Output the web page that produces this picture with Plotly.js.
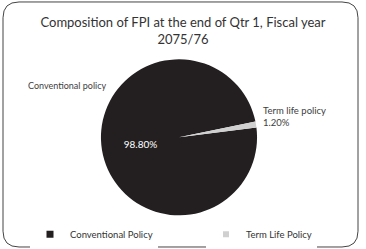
<!DOCTYPE html>
<html><head><meta charset="utf-8">
<script src="https://cdn.plot.ly/plotly-3.0.1.min.js"></script>
<style>html,body{margin:0;padding:0;background:#fff}#chart{width:366px;height:249px}</style>
</head><body><div id="chart"></div>
<script>
var categories = ['Conventional Policy', 'Term Life Policy'];
var dataLabels = ['Conventional policy', 'Term life policy'];
var shares = [98.80, 1.20];
var colors = ['#231F20', '#D0D0D0'];
var titleText = 'Composition of FPI at the end of Qtr 1, Fiscal year<br>2075/76';

var W = 366, H = 249;
function px(x){return x/W;} function py(y){return 1 - y/H;}

var pie = {
  type: 'pie',
  labels: categories,
  values: shares,
  text: dataLabels,
  sort: false,
  direction: 'clockwise',
  rotation: 82.7,
  marker: {colors: colors, line: {width: 0}},
  textposition: ['inside', 'none'],
  texttemplate: ['%{percent:.2%}', ''],
  insidetextorientation: 'horizontal',
  insidetextfont: {color: '#ffffff', size: 10, family: 'Lato'},
  hoverinfo: 'none',
  showlegend: false,
  domain: {x: [px(100), px(258)], y: [py(218), py(60)]}
};

// legend entries (one per category, no plotted points)
var legendTraces = categories.map(function (name, i) {
  return {type: 'scatter', mode: 'markers', x: [null], y: [null], name: name,
          legend: i === 0 ? 'legend' : 'legend2',
          marker: {symbol: 'square', size: i === 0 ? 7 : 6, color: colors[i]},
          hoverinfo: 'none'};
});

// rounded chart-area border
var x0 = 3, y0 = 2, x1 = 358, y1 = 250, r = 16;
var path = 'M' + px(x0 + r) + ',' + py(y0) +
  ' L' + px(x1 - r) + ',' + py(y0) +
  ' Q' + px(x1) + ',' + py(y0) + ' ' + px(x1) + ',' + py(y0 + r) +
  ' L' + px(x1) + ',' + py(y1 - r) +
  ' Q' + px(x1) + ',' + py(y1) + ' ' + px(x1 - r) + ',' + py(y1) +
  ' L' + px(x0 + r) + ',' + py(y1) +
  ' Q' + px(x0) + ',' + py(y1) + ' ' + px(x0) + ',' + py(y1 - r) +
  ' L' + px(x0) + ',' + py(y0 + r) +
  ' Q' + px(x0) + ',' + py(y0) + ' ' + px(x0 + r) + ',' + py(y0) + ' Z';

var legFont = {family: 'Lato', size: 9.5, color: '#333333'};
var layout = {
  width: W, height: H,
  margin: {l: 0, r: 0, t: 0, b: 0},
  paper_bgcolor: '#ffffff',
  plot_bgcolor: 'rgba(0,0,0,0)',
  xaxis: {visible: false}, yaxis: {visible: false},
  title: {text: titleText, x: px(183), xanchor: 'center', yref: 'container', y: py(27), yanchor: 'middle',
          font: {family: 'Lato', size: 13, color: '#333333'}},
  showlegend: true,
  legend: {orientation: 'h', x: px(30), xanchor: 'left', y: py(237), yanchor: 'middle', font: legFont},
  legend2: {orientation: 'h', x: px(206), xanchor: 'left', y: py(237), yanchor: 'middle', font: legFont},
  annotations: [{
    text: dataLabels[0], xref: 'paper', yref: 'paper', x: px(67), y: py(87),
    xanchor: 'center', yanchor: 'middle', showarrow: false,
    font: {family: 'Lato', size: 9, color: '#404040'}
  }, {
    text: dataLabels[1] + '<br>' + shares[1].toFixed(2) + '%', xref: 'paper', yref: 'paper',
    x: px(261), y: py(118), xanchor: 'left', yanchor: 'middle', align: 'left', showarrow: false,
    font: {family: 'Lato', size: 9.5, color: '#404040'}
  }],
  shapes: [{type: 'path', xref: 'paper', yref: 'paper', path: path,
            line: {color: '#444444', width: 1}, fillcolor: 'rgba(0,0,0,0)'}]
};

Plotly.newPlot('chart', [pie].concat(legendTraces), layout, {displayModeBar: false, staticPlot: true});
</script></body></html>
